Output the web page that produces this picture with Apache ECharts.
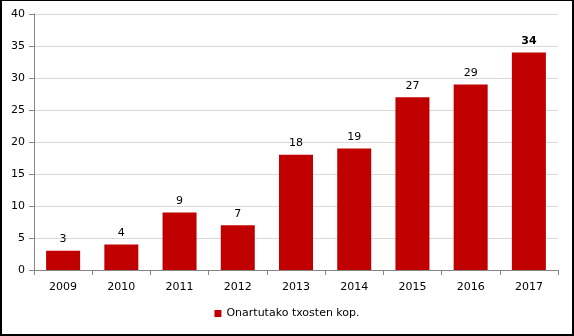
<!DOCTYPE html>
<html><head><meta charset="utf-8">
<script src="https://cdn.jsdelivr.net/npm/echarts@6/dist/echarts.min.js"></script>
<style>
html,body{margin:0;padding:0;background:#fff;}
#c{width:574px;height:336px;box-sizing:border-box;border:1px solid #000;border-left-width:2px;border-bottom-width:2px;border-right-width:2px;}
</style></head>
<body><div id="c"></div>
<script>
var categories = ['2009','2010','2011','2012','2013','2014','2015','2016','2017'];
var values = [3,4,9,7,18,19,27,29,34];
var yTicks = {min:0, max:40, interval:5};
var seriesName = 'Onartutako txosten kop.';

var chart = echarts.init(document.getElementById('c'), null, {renderer:'canvas'});
var font = 'DejaVu Sans';
chart.setOption({
  animation:false,
  grid:{left:32, right:14, top:13, bottom:64},
  legend:{bottom:10, left:'center', itemWidth:7, itemHeight:7, itemGap:10, icon:'rect',
    textStyle:{fontFamily:font, fontSize:11, color:'#000'}, data:[seriesName]},
  xAxis:{type:'category', data:categories,
    axisLine:{lineStyle:{color:'#868686'}},
    axisTick:{show:true, alignWithLabel:false, length:5, lineStyle:{color:'#868686'}},
    axisLabel:{fontFamily:font, fontSize:11, color:'#000', margin:12}},
  yAxis:{type:'value', min:yTicks.min, max:yTicks.max, interval:yTicks.interval,
    axisLine:{show:true, lineStyle:{color:'#868686'}},
    axisTick:{show:true, length:5, lineStyle:{color:'#868686'}},
    splitLine:{lineStyle:{color:'#d9d9d9'}},
    axisLabel:{fontFamily:font, fontSize:11, color:'#000', margin:9}},
  series:[{name:seriesName, type:'bar', barWidth:34,
    itemStyle:{color:'#c00000'},
    label:{show:true, position:'top', distance:6, fontFamily:font, fontSize:11, color:'#000'},
    data: values.map(function(v,i){ return i===values.length-1 ? {value:v, label:{fontWeight:'bold'}} : v; })
  }]
});
</script></body></html>
